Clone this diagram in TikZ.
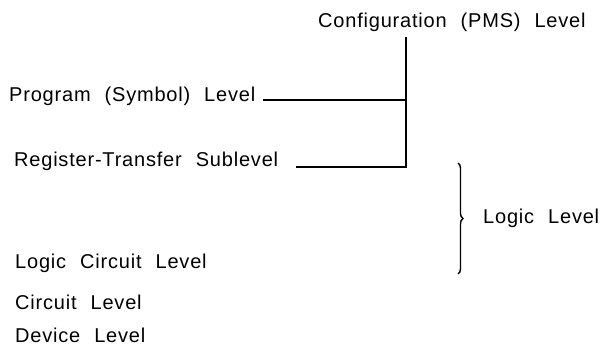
\documentclass[tikz,border=0pt]{standalone}
\usepackage{fontspec}
\setmainfont{Liberation Sans}[LetterSpace=4,WordSpace=2.2]
\usetikzlibrary{decorations.pathreplacing}

\tikzset{
  lvl/.style={anchor=base west,inner sep=0pt,font=\fontsize{20}{24}\selectfont},
  tie/.style={line width=1.8pt}
}

\begin{document}
\begin{tikzpicture}[x=1pt,y=-1pt]
      \useasboundingbox (0,0) rectangle (603,350);
      % levels of description
      \node[lvl] (conf) at (318,28) {Configuration (PMS) Level};
      \node[lvl] (prog) at (9,102) {Program (Symbol) Level};
      \node[lvl] (rt)   at (14,167) {Register-Transfer Sublevel};
      \node[lvl] (lc)   at (15,268) {Logic Circuit Level};
      \node[lvl] (circ) at (15,309) {Circuit Level};
      \node[lvl] (dev)  at (15,342) {Device Level};
      \node[lvl] (logic) at (483,223) {Logic Level};

      % ends of the connecting lines
      \coordinate (T) at (406,37);
      \coordinate (P) at (263,100);
      \coordinate (R) at (296,167);
      \draw[tie] (T) -- (T |- R) -- (R);
      \draw[tie] (P) -- (P -| T);

      % brace for the logic level
      \draw[line width=1.4pt,decorate,decoration={brace,amplitude=5pt}]
        (458,163) -- (458,274);
    \end{tikzpicture}
\end{document}
